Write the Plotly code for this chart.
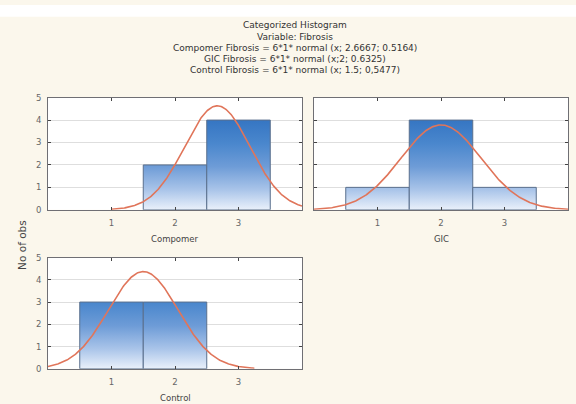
import numpy as np
import plotly.graph_objects as go

# ---- data ----
groups = ["Compomer", "GIC", "Control"]
bin_left = [0.5, 1.5, 2.5]
bin_right = [1.5, 2.5, 3.5]
counts_compomer = [0, 2, 4]
counts_gic = [1, 4, 1]
counts_control = [3, 3, 0]
counts = [counts_compomer, counts_gic, counts_control]
fit_mean = [2.6667, 2.0, 1.5]
fit_sd = [0.5164, 0.6325, 0.5477]
n_obs = [6, 6, 6]
curve_from = [1.0, 0.0, 0.0]
curve_to = [4.0, 4.0, 3.25]
x_ticks = [1, 2, 3]
y_ticks = [0, 1, 2, 3, 4, 5]
title_lines = [
    "Categorized Histogram",
    "Variable: Fibrosis",
    "Compomer Fibrosis = 6*1* normal (x; 2.6667; 0.5164)",
    "GIC Fibrosis = 6*1* normal (x;2; 0.6325)",
    "Control Fibrosis = 6*1* normal (x; 1.5; 0,5477)",
]

W, H = 576, 404
FONT = "DejaVu Sans"
bg = "#fbf7ec"
border = "#6f6f74"
grad = [[0, "#f3f7fd"], [0.25, "#a9c4e9"], [0.5, "#6e9cd7"], [0.75, "#4a87cd"], [1, "#3676c3"]]
curve_col = "#e0755a"

# panel boxes in pixels (left, right, top, bottom)
boxes = [(48, 302, 95, 210), (314, 568, 95, 210), (48, 302, 259, 373)]

fig = go.Figure()

for i, g in enumerate(groups):
    xa = "x" if i == 0 else f"x{i+1}"
    ya = "y" if i == 0 else f"y{i+1}"
    # bars as filled rectangles with vertical gradient
    for l, r, c in zip(bin_left, bin_right, counts[i]):
        if c <= 0:
            continue
        fig.add_trace(go.Scatter(
            x=[l, l, r, r, l], y=[0, c, c, 0, 0], mode="lines", fill="toself",
            fillgradient=dict(type="vertical", colorscale=grad, start=0, stop=4),
            line=dict(color="#5a6f8c", width=1), xaxis=xa, yaxis=ya,
            showlegend=False, hoverinfo="skip"))
    # fitted normal curve
    xs = np.linspace(curve_from[i], curve_to[i], 300)
    ys = n_obs[i] * 1 * np.exp(-0.5 * ((xs - fit_mean[i]) / fit_sd[i]) ** 2) / (fit_sd[i] * np.sqrt(2 * np.pi))
    fig.add_trace(go.Scatter(x=xs, y=ys, mode="lines", line=dict(color=curve_col, width=1.6),
                             xaxis=xa, yaxis=ya, showlegend=False))

axis_common = dict(showline=True, linecolor=border, linewidth=1, mirror="ticks",
                   ticks="inside", ticklen=3, tickcolor="#444", zeroline=False,
                   tickfont=dict(family=FONT, size=8.5, color="#666"))
layout = {}
for i, (l, r, t, b) in enumerate(boxes):
    xk = "xaxis" if i == 0 else f"xaxis{i+1}"
    yk = "yaxis" if i == 0 else f"yaxis{i+1}"
    ya = "y" if i == 0 else f"y{i+1}"
    xa = "x" if i == 0 else f"x{i+1}"
    layout[xk] = dict(domain=[l / W, r / W], anchor=ya, range=[0, 4], tickvals=x_ticks,
                      showgrid=False, ticklabelstandoff=5, **axis_common)
    layout[yk] = dict(domain=[1 - b / H, 1 - t / H], anchor=xa, range=[0, 5], tickvals=y_ticks,
                      showgrid=True, gridcolor="#dedede", gridwidth=1, ticklabelstandoff=4,
                      showticklabels=(i != 1), **axis_common)

annotations = []
for k, line in enumerate(title_lines):
    annotations.append(dict(text=line, x=295 / W, y=1 - (21 + 11.4 * k) / H, xref="paper", yref="paper",
                            showarrow=False, xanchor="center", yanchor="middle", borderpad=0,
                            font=dict(family=FONT, size=9, color="#333")))
label_pos = [(175, 240), (441, 240), (175, 403)]
for g, (px, py) in zip(groups, label_pos):
    annotations.append(dict(text=g, x=px / W, y=1 - py / H, xref="paper", yref="paper",
                            showarrow=False, xanchor="center", yanchor="middle",
                            font=dict(family=FONT, size=8.5, color="#444")))
annotations.append(dict(text="No of obs", x=22 / W, y=1 - 246 / H, xref="paper", yref="paper",
                        showarrow=False, textangle=-90, xanchor="center", yanchor="middle",
                        font=dict(family=FONT, size=10.5, color="#444")))

fig.update_layout(width=W, height=H, margin=dict(l=0, r=0, t=0, b=0),
                  paper_bgcolor=bg, plot_bgcolor="white", showlegend=False,
                  annotations=annotations,
                  shapes=[dict(type="rect", xref="paper", yref="paper", x0=0, x1=1,
                               y0=1 - 12 / H, y1=1, fillcolor="white", line=dict(width=0), layer="below")],
                  **layout)

fig.write_html("out.html")
